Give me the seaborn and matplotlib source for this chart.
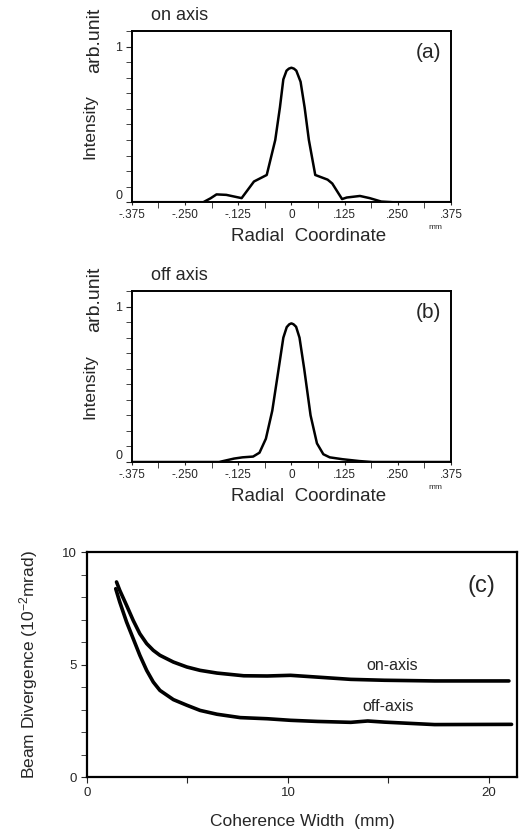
import numpy as np
import pandas as pd
import matplotlib
matplotlib.use('Agg')
import matplotlib.pyplot as plt
import seaborn as sns
from matplotlib.ticker import FixedLocator, FixedFormatter, MultipleLocator

# radial profiles
a_x = [-0.375, -0.207, -0.190, -0.176, -0.153, -0.117, -0.088, -0.058, -0.038, -0.027,
       -0.019, -0.0115, -0.006, 0.0, 0.006, 0.0115, 0.0215, 0.031, 0.041, 0.056,
       0.085, 0.096, 0.119, 0.130, 0.161, 0.184, 0.211, 0.238, 0.375]
a_y = [0.0, 0.0, 0.025, 0.05, 0.047, 0.026, 0.133, 0.175, 0.40, 0.61,
       0.79, 0.846, 0.859, 0.865, 0.859, 0.846, 0.775, 0.61, 0.40, 0.175,
       0.145, 0.12, 0.02, 0.03, 0.04, 0.026, 0.004, 0.0, 0.0]

b_x = [-0.375, -0.17, -0.135, -0.115, -0.09, -0.075, -0.06, -0.045, -0.03, -0.019,
       -0.011, -0.005, 0.0, 0.005, 0.011, 0.019, 0.03, 0.045, 0.06, 0.075,
       0.09, 0.12, 0.16, 0.19, 0.375]
b_y = [0.0, 0.0, 0.022, 0.03, 0.035, 0.06, 0.15, 0.33, 0.6, 0.80,
       0.868, 0.886, 0.892, 0.886, 0.87, 0.80, 0.6, 0.3, 0.12, 0.05,
       0.03, 0.018, 0.006, 0.0, 0.0]

# beam divergence vs coherence width
on_x = [1.47, 1.63, 1.97, 2.3, 2.63, 2.97, 3.3, 3.63, 4.3, 4.97,
        5.63, 6.47, 7.8, 8.97, 10.13, 11.47, 13.13, 14.8, 17.3, 21.0]
on_y = [8.67, 8.30, 7.63, 6.96, 6.37, 5.93, 5.63, 5.41, 5.11, 4.89,
        4.74, 4.62, 4.50, 4.49, 4.52, 4.44, 4.34, 4.30, 4.27, 4.27]
off_x = [1.43, 1.63, 1.97, 2.3, 2.63, 2.97, 3.3, 3.63, 4.3, 4.97,
         5.63, 6.47, 7.63, 8.97, 10.13, 11.47, 13.13, 13.97, 14.8, 17.3, 21.13]
off_y = [8.37, 7.78, 6.89, 6.15, 5.41, 4.74, 4.22, 3.85, 3.44, 3.19,
         2.96, 2.79, 2.64, 2.59, 2.52, 2.47, 2.43, 2.49, 2.44, 2.33, 2.34]

radial_ticks = [-0.375, -0.25, -0.125, 0, 0.125, 0.25, 0.375]
radial_labels = ['-.375', '-.250', '-.125', '0', '.125', '.250', '.375']

sns.set_style('ticks')
plt.rcParams['font.family'] = ['Liberation Sans', 'DejaVu Sans']
plt.rcParams['mathtext.fontset'] = 'custom'
plt.rcParams['mathtext.rm'] = 'Liberation Sans'

fig = plt.figure(figsize=(5.19, 8.32), dpi=100)
ax1 = fig.add_axes([0.254, 0.757, 0.615, 0.2055])
ax2 = fig.add_axes([0.254, 0.4447, 0.615, 0.2055])
ax3 = fig.add_axes([0.1676, 0.0661, 0.8285, 0.2704])

for ax, xs, ys, title, tag in [(ax1, a_x, a_y, 'on axis', '(a)'),
                               (ax2, b_x, b_y, 'off axis', '(b)')]:
    sns.lineplot(x=xs, y=ys, ax=ax, color='black', lw=1.8)
    ax.set_xlim(-0.375, 0.375)
    ax.set_ylim(0, 1.1)
    ax.xaxis.set_major_locator(FixedLocator(radial_ticks))
    ax.xaxis.set_major_formatter(FixedFormatter(radial_labels))
    ax.xaxis.set_minor_locator(FixedLocator([-0.3125, -0.1875, -0.0625, 0.0625, 0.1875, 0.3125]))
    ax.set_yticks([0, 1])
    ax.set_yticklabels(['0', '1'])
    ax.yaxis.set_minor_locator(MultipleLocator(0.1))
    ax.tick_params(axis='x', which='major', length=2, labelsize=8.5, pad=3)
    ax.tick_params(axis='x', which='minor', length=4)
    ax.tick_params(axis='y', which='both', length=4, labelsize=9, pad=3)
    ax.get_yticklabels()[0].set_va('bottom')
    for s in ax.spines.values():
        s.set_linewidth(1.4)
        s.set_color('black')
    ax.set_xlabel('Radial  Coordinate', fontsize=13.5)
    ax.xaxis.set_label_coords(0.553, -0.15, transform=ax.transAxes)
    ax.xaxis.label.set_va('top')
    ax.set_ylabel('')
    ax.text(0.06, 1.04, title, transform=ax.transAxes, fontsize=13, ha='left', va='bottom')
    ax.text(0.97, 0.93, tag, transform=ax.transAxes, fontsize=15, ha='right', va='top')
    ax.text(0.95, -0.13, 'mm', transform=ax.transAxes, fontsize=6, ha='center', va='top')
    ax.text(-0.13, 0.44, 'Intensity', transform=ax.transAxes, fontsize=12.5, rotation=90,
            ha='center', va='center')
    ax.text(-0.115, 1.14, 'arb.unit', transform=ax.transAxes, fontsize=14, rotation=90,
            ha='center', va='top')

sns.lineplot(x=on_x, y=on_y, ax=ax3, color='black', lw=2.6)
sns.lineplot(x=off_x, y=off_y, ax=ax3, color='black', lw=2.6)
ax3.set_xlim(0, 21.4)
ax3.set_ylim(0, 10)
ax3.set_xticks([0, 5, 10, 15, 20])
ax3.set_xticklabels(['0', '', '10', '', '20'])
ax3.set_yticks([0, 5, 10])
ax3.set_yticklabels(['0', '5', '10'])
ax3.yaxis.set_minor_locator(MultipleLocator(1))
ax3.tick_params(axis='both', which='both', length=4, labelsize=9.5, pad=3)
for s in ax3.spines.values():
    s.set_linewidth(1.6)
    s.set_color('black')
ax3.set_xlabel('Coherence Width  (mm)', fontsize=12.5, labelpad=11)
ax3.set_ylabel(r'Beam Divergence ($\mathregular{10^{-2}}$mrad)', fontsize=12.5, labelpad=16)
ax3.text(0.95, 0.9, '(c)', transform=ax3.transAxes, fontsize=17, ha='right', va='top')
ax3.text(15.2, 4.95, 'on-axis', fontsize=11.5, ha='center', va='center')
ax3.text(15.0, 3.15, 'off-axis', fontsize=11.5, ha='center', va='center')

plt.savefig('out.png', dpi=100)
